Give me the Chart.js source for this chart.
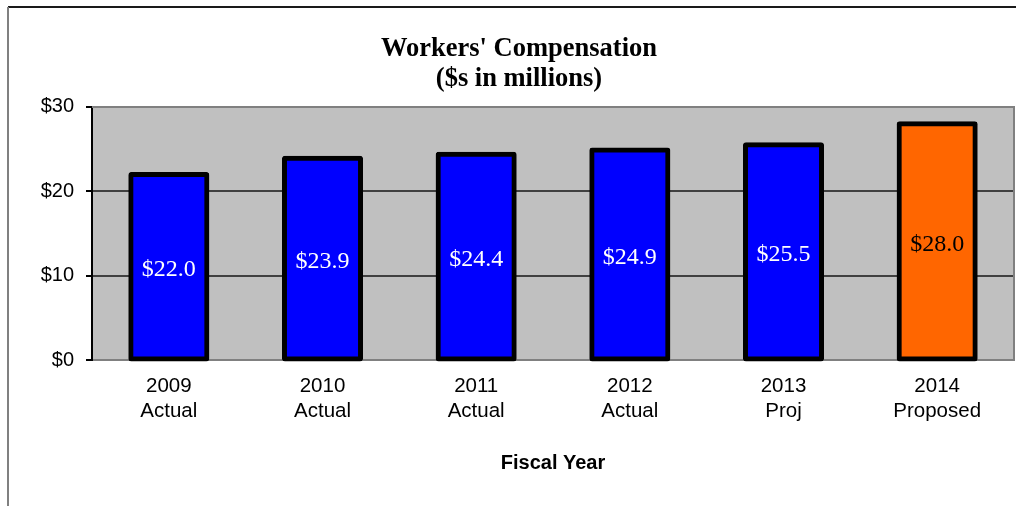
<!DOCTYPE html>
<html>
<head>
<meta charset="utf-8">
<script src="https://cdn.jsdelivr.net/npm/chart.js@4/dist/chart.umd.min.js"></script>
<style>
  html, body { margin: 0; padding: 0; background: #fff; }
  #wrap { width: 1016px; height: 506px; }
</style>
</head>
<body>
<div id="wrap"><canvas id="graficoComp"></canvas></div>
<script>
const anos = [["2009", "Actual"], ["2010", "Actual"], ["2011", "Actual"], ["2012", "Actual"], ["2013", "Proj"], ["2014", "Proposed"]];
const valores = [22.0, 23.9, 24.4, 24.9, 25.5, 28.0];
const coresBarra = ["#0000FF", "#0000FF", "#0000FF", "#0000FF", "#0000FF", "#FF6600"];
const coresTexto = ["#FFFFFF", "#FFFFFF", "#FFFFFF", "#FFFFFF", "#FFFFFF", "#000000"];
const ticksY = [0, 10, 20, 30];

// fundo cinza da area do grafico e moldura
const fundoPlot = {
  id: 'fundoPlot',
  beforeDraw(chart) {
    const { ctx, chartArea: a } = chart;
    ctx.save();
    ctx.fillStyle = '#C0C0C0';
    ctx.fillRect(a.left, a.top, a.right - a.left, a.bottom - a.top);
    ctx.restore();
  },
  beforeDatasetsDraw(chart) {
    const { ctx, chartArea: a } = chart;
    ctx.save();
    ctx.strokeStyle = '#808080';
    ctx.lineWidth = 2;
    ctx.beginPath();
    ctx.moveTo(a.left, a.top);
    ctx.lineTo(a.right, a.top);
    ctx.lineTo(a.right, a.bottom);
    ctx.stroke();
    ctx.restore();
  },
  afterDraw(chart) {
    const ctx = chart.ctx;
    ctx.save();
    ctx.lineWidth = 2;
    ctx.strokeStyle = '#1a1a1a';
    ctx.beginPath();
    ctx.moveTo(8, 7);
    ctx.lineTo(1016, 7);
    ctx.stroke();
    ctx.strokeStyle = '#808080';
    ctx.beginPath();
    ctx.moveTo(8, 7);
    ctx.lineTo(8, 506);
    ctx.stroke();
    ctx.restore();
  }
};

// valor escrito no meio de cada barra
const rotulos = {
  id: 'rotulos',
  afterDatasetsDraw(chart) {
    const ctx = chart.ctx;
    const meta = chart.getDatasetMeta(0);
    ctx.save();
    ctx.font = '24px "Liberation Serif", "Times New Roman", serif';
    ctx.textAlign = 'center';
    ctx.textBaseline = 'middle';
    meta.data.forEach((barra, i) => {
      ctx.fillStyle = coresTexto[i];
      ctx.fillText('$' + valores[i].toFixed(1), barra.x, (barra.y + barra.base) / 2 + 3);
    });
    ctx.restore();
  }
};

const graficoComp = new Chart(document.getElementById('graficoComp'), {
  type: 'bar',
  data: {
    labels: anos,
    datasets: [{
      data: valores,
      backgroundColor: coresBarra,
      borderColor: '#000000',
      borderWidth: 5,
      borderRadius: 3,
      borderSkipped: false,
      inflateAmount: 2.5,
      clip: false,
      categoryPercentage: 1,
      barPercentage: 0.495
    }]
  },
  options: {
    responsive: true,
    maintainAspectRatio: false,
    animation: false,
    layout: { padding: { left: 24, right: 2, top: 0, bottom: 0 } },
    plugins: {
      legend: { display: false },
      tooltip: { enabled: false },
      title: {
        display: true,
        text: ["Workers' Compensation", "($s in millions)"],
        color: '#000',
        font: { family: '"Liberation Serif", "Times New Roman", serif', size: 26.5, weight: 'bold', lineHeight: 1.13 },
        padding: { top: 34, bottom: 13 }
      }
    },
    scales: {
      x: {
        grid: { display: false, drawTicks: false },
        border: { color: '#808080', width: 2 },
        ticks: {
          color: '#000',
          padding: 14,
          font: { family: '"Liberation Sans", Arial, sans-serif', size: 20.5, lineHeight: 1.22 }
        },
        title: {
          display: true,
          text: 'Fiscal Year',
          color: '#000',
          font: { family: '"Liberation Sans", Arial, sans-serif', size: 20, weight: 'bold' },
          padding: { top: 0, bottom: 31 }
        },
        afterFit(scale) { scale.height = 146; }
      },
      y: {
        min: 0,
        max: 30,
        afterBuildTicks(scale) { scale.ticks = ticksY.map(v => ({ value: v })); },
        grid: {
          color: ctx => (ctx.tick && (ctx.tick.value === 10 || ctx.tick.value === 20)) ? '#404040' : 'rgba(0,0,0,0)',
          tickColor: '#000',
          tickLength: 6,
          lineWidth: 2
        },
        border: { color: '#000', width: 2 },
        ticks: {
          color: '#000',
          padding: 12,
          font: { family: '"Liberation Sans", Arial, sans-serif', size: 20 },
          callback: v => '$' + v
        },
        afterFit(scale) { scale.width = 68; }
      }
    }
  },
  plugins: [fundoPlot, rotulos]
});
</script>
</body>
</html>
